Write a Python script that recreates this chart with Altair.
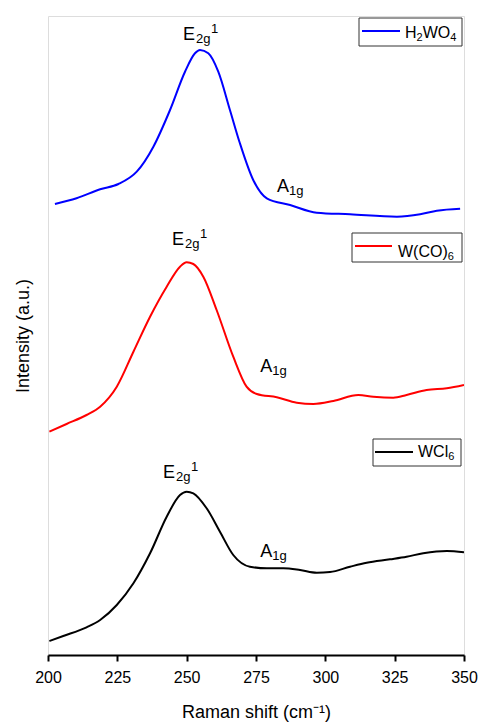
import altair as alt
import pandas as pd

# ---- data ----
h2wo4_x = [202.5, 210.3, 218.8, 225.4, 232.0, 238.0, 244.0, 249.4, 253.0, 254.8, 257.8, 261.4,
           265.6, 269.2, 274.0, 278.9, 287.3, 296.9, 308.9, 325.8, 334.2, 340.2, 348.6]
h2wo4_y = [26, 31.7, 40.7, 46, 58.3, 83.3, 120, 158.3, 176.7, 180, 176.7, 158.3,
           120, 86.7, 50, 31.7, 25, 17.3, 15.7, 13.3, 15.7, 19.3, 21.3]

wco6_x = [200.5, 206.7, 213.9, 218.8, 224.8, 230.8, 236.8, 242.8, 247.6, 250.0, 252.4, 256.0,
          260.8, 266.8, 271.6, 275.3, 282.5, 289.7, 295.7, 302.9, 311.9, 317.3, 324.5, 329.3,
          336.5, 343.8, 350.0]
wco6_y = [11.3, 19, 28, 36.3, 56.3, 91.3, 126.3, 156.3, 176.3, 180.7, 179, 166.3,
          133, 86.3, 56.3, 49, 45.7, 40.3, 39, 42, 48, 46.3, 45.3, 48,
          53, 54.7, 58]

wcl6_x = [200.5, 205.5, 213.9, 218.8, 224.8, 230.8, 236.8, 242.8, 247.6, 250.0, 252.4, 257.2,
          262.0, 266.8, 272.8, 278.9, 284.9, 290.9, 296.9, 301.7, 308.9, 314.9, 323.3, 329.3,
          335.3, 343.8, 350.0]
wcl6_y = [14, 19, 27.7, 35, 50, 71.7, 101.7, 138.3, 160, 163.3, 161.7, 146.7,
          123.3, 100, 88.3, 86.7, 86.7, 85, 82.3, 83, 88.3, 92.3, 95.7, 98.3,
          101.7, 104, 102.7]

samples = ["H₂WO₄", "W(CO)₆", "WCl₆"]
offsets = [425, 212, 0]
colors = ["#0000FF", "#FF0000", "#000000"]

# legend text pieces: (text, is_subscript)
legend_pieces = [
    [("H", False), ("2", True), ("WO", False), ("4", True)],
    [("W(CO)", False), ("6", True)],
    [("WCl", False), ("6", True)],
]

# annotation anchors (data coords)
peak_x = [248.7, 244.7, 241.5]
peak_y = [615, 410, 177]
a1g_x = [282.6, 276.5, 276.5]
a1g_y = [463, 283, 98]

x_ticks = [200 + 12.5 * i for i in range(13)]

# ---- build tables ----
rows = []
for name, off, xs, ys in zip(samples, offsets, [h2wo4_x, wco6_x, wcl6_x], [h2wo4_y, wco6_y, wcl6_y]):
    for xv, yv in zip(xs, ys):
        rows.append({"sample": name, "shift": xv, "value": yv, "offset": off})
df = pd.DataFrame(rows)

peaks = pd.DataFrame({"x": peak_x, "y": peak_y})
a1g = pd.DataFrame({"x": a1g_x, "y": a1g_y})

FONT = "Liberation Sans"

xscale = alt.Scale(domain=[200, 350], nice=False, zero=False)
yscale = alt.Scale(domain=[0, 639], nice=False, zero=False)

x_axis = alt.Axis(
    values=x_ticks,
    labelExpr="datum.value % 25 === 0 ? datum.label : ''",
    tickSize={"condition": {"test": "datum.value % 25 === 0", "value": 6}, "value": 3},
    labelFlush=False,
    title="Raman shift (cm⁻¹)",
    grid=False,
    domainColor="black", domainWidth=2,
    tickColor="black", tickWidth=2,
    labelColor="black", labelFont=FONT, labelFontSize=16, labelPadding=8,
    titleColor="black", titleFont=FONT, titleFontSize=18, titleFontWeight="normal",
    titlePadding=18,
)
y_axis = alt.Axis(
    title="Intensity (a.u.)", labels=False, ticks=False, domain=False, grid=False,
    titleColor="black", titleFont=FONT, titleFontSize=18, titleFontWeight="normal",
    titlePadding=16,
)

lines = alt.Chart(df).transform_calculate(
    total="datum.value + datum.offset"
).mark_line(strokeWidth=2, interpolate="monotone", clip=True).encode(
    x=alt.X("shift:Q", scale=xscale, axis=x_axis),
    y=alt.Y("total:Q", scale=yscale, axis=y_axis),
    color=alt.Color("sample:N", scale=alt.Scale(domain=samples, range=colors), legend=None),
    detail="sample:N",
)

def txt(data, text, size, dx=0, dy=0):
    return alt.Chart(data).mark_text(
        text=text, font=FONT, fontSize=size, align="left", baseline="alphabetic",
        dx=dx, dy=dy, color="black"
    ).encode(x=alt.X("x:Q", scale=xscale), y=alt.Y("y:Q", scale=yscale))

ann = [
    txt(peaks, "E", 18),
    txt(peaks, "2g", 13, dx=13, dy=3),
    txt(peaks, "1", 13, dx=28, dy=-7),
    txt(a1g, "A", 18),
    txt(a1g, "1g", 13, dx=12, dy=3),
]

# ---- legend boxes (pixel layout, relative to plot area) ----
legend_boxes = [
    # x0, x1, y0, y1, line x0, x1, line y, text x, text baseline
    (311, 414, 2, 30, 314, 352, 15, 357, 21.5),
    (304, 414, 217, 246, 307, 344, 230, 350, 240.5),
    (325, 413, 423, 450, 327, 365, 436, 370, 441),
]
W = {"H": 0.722, "W": 0.944, "O": 0.778, "C": 0.722, "(": 0.333, ")": 0.333, "l": 0.222}
MAIN, SUB = 16, 11
leg_layers = []
for (x0, x1, y0, y1, lx0, lx1, ly, tx, ty), pieces, col in zip(legend_boxes, legend_pieces, colors):
    base = alt.Chart(pd.DataFrame({"k": [0]}))
    leg_layers.append(base.mark_rect(fill="white", stroke="#333333", strokeWidth=1).encode(
        x=alt.value(x0), x2=alt.value(x1), y=alt.value(y0), y2=alt.value(y1)))
    leg_layers.append(base.mark_rule(color=col, strokeWidth=2).encode(
        x=alt.value(lx0), x2=alt.value(lx1), y=alt.value(ly)))
    cx = tx
    for t, sub in pieces:
        size = SUB if sub else MAIN
        leg_layers.append(base.mark_text(text=t, font=FONT, fontSize=size, align="left",
                                         baseline="alphabetic", color="black").encode(
            x=alt.value(cx), y=alt.value(ty + (3 if sub else 0))))
        cx += sum(W.get(c, 0.556) for c in t) * size

chart = alt.layer(lines, *ann, *leg_layers).properties(
    width=416, height=639,
    autosize=alt.AutoSizeParams(type="none"),
    padding={"left": 48, "top": 16, "right": 16, "bottom": 69},
).configure_view(stroke="black", strokeWidth=2).configure(background="white")

chart.save("out.html", embed_options={"renderer": "svg", "actions": False})
